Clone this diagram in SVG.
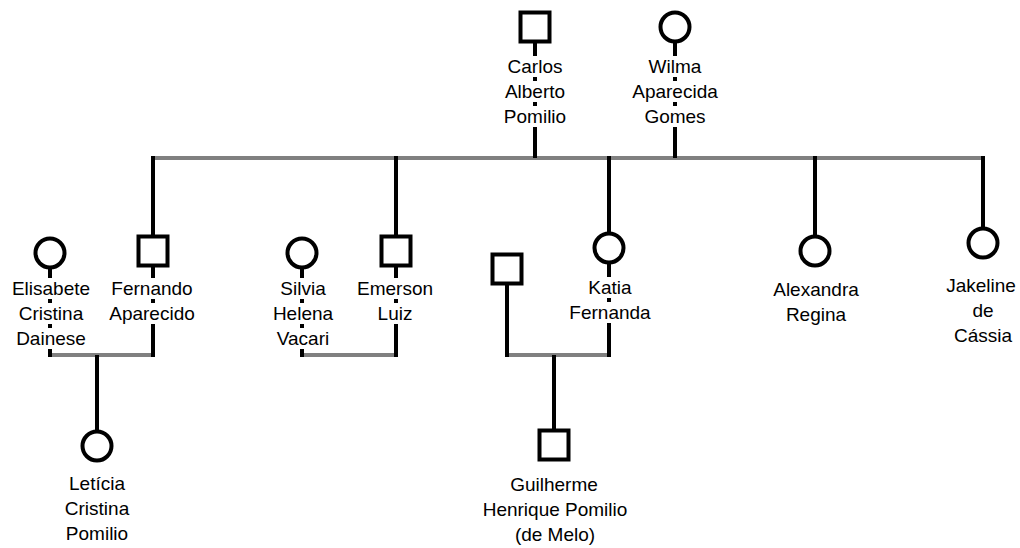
<svg xmlns="http://www.w3.org/2000/svg" width="1020" height="548" viewBox="0 0 1020 548">
  <style>
    .bar { stroke: #808080; stroke-width: 4; fill: none; }
    .link { stroke: #000; stroke-width: 4; fill: none; }
    .sym { fill: #fff; stroke: #000; stroke-width: 4; }
    .bg { fill: #fff; }
    text { font-family: "Liberation Sans", Arial, sans-serif; font-size: 19px; fill: #000; text-anchor: middle; }
  </style>
  <rect width="1020" height="548" fill="#fff"/>

  <!-- family lines: grey sibling/couple bars, black descent lines -->
  <g id="connectors">
    <line class="bar" x1="153" y1="158" x2="983" y2="158"/>
    <line class="bar" x1="50" y1="355" x2="153" y2="355"/>
    <line class="bar" x1="302" y1="355" x2="396" y2="355"/>
    <line class="bar" x1="507" y1="355" x2="609" y2="355"/>

    <line class="link" x1="535" y1="41" x2="535" y2="158"/>
    <line class="link" x1="675" y1="41" x2="675" y2="158"/>

    <line class="link" x1="153" y1="156" x2="153" y2="237"/>
    <line class="link" x1="396" y1="156" x2="396" y2="237"/>
    <line class="link" x1="609" y1="156" x2="609" y2="234"/>
    <line class="link" x1="815" y1="156" x2="815" y2="237"/>
    <line class="link" x1="983" y1="156" x2="983" y2="229"/>

    <line class="link" x1="50" y1="267" x2="50" y2="357"/>
    <line class="link" x1="153" y1="265" x2="153" y2="357"/>
    <line class="link" x1="302" y1="267" x2="302" y2="357"/>
    <line class="link" x1="396" y1="265" x2="396" y2="357"/>
    <line class="link" x1="507" y1="283" x2="507" y2="357"/>
    <line class="link" x1="609" y1="262" x2="609" y2="357"/>

    <line class="link" x1="97" y1="355" x2="97" y2="432"/>
    <line class="link" x1="554" y1="355" x2="554" y2="431"/>
  </g>

  <g id="carlos">
    <rect class="sym" x="520.5" y="12.5" width="29" height="29"/>
    <rect class="bg" x="527" y="56" width="16" height="21"/>
    <rect class="bg" x="527" y="81" width="16" height="21"/>
    <rect class="bg" x="527" y="106" width="16" height="21"/>
    <text x="535" y="73">Carlos</text>
    <text x="535" y="98">Alberto</text>
    <text x="535" y="123">Pomilio</text>
  </g>

  <g id="wilma">
    <circle class="sym" cx="675" cy="27" r="14.5"/>
    <rect class="bg" x="667" y="56" width="16" height="21"/>
    <rect class="bg" x="667" y="81" width="16" height="21"/>
    <rect class="bg" x="667" y="106" width="16" height="21"/>
    <text x="675" y="73">Wilma</text>
    <text x="675" y="98">Aparecida</text>
    <text x="675" y="123">Gomes</text>
  </g>

  <g id="elisabete">
    <circle class="sym" cx="50" cy="253" r="14.5"/>
    <rect class="bg" x="42" y="278" width="16" height="21"/>
    <rect class="bg" x="42" y="303" width="16" height="21"/>
    <rect class="bg" x="42" y="328" width="16" height="21"/>
    <text x="51" y="295">Elisabete</text>
    <text x="51" y="320">Cristina</text>
    <text x="51" y="345">Dainese</text>
  </g>

  <g id="fernando">
    <rect class="sym" x="138.5" y="236.5" width="29" height="29"/>
    <rect class="bg" x="145" y="278" width="16" height="21"/>
    <rect class="bg" x="145" y="303" width="16" height="21"/>
    <text x="152" y="295">Fernando</text>
    <text x="152" y="320">Aparecido</text>
  </g>

  <g id="silvia">
    <circle class="sym" cx="302" cy="253" r="14.5"/>
    <rect class="bg" x="294" y="278" width="16" height="21"/>
    <rect class="bg" x="294" y="303" width="16" height="21"/>
    <rect class="bg" x="294" y="328" width="16" height="21"/>
    <text x="303" y="295">Silvia</text>
    <text x="303" y="320">Helena</text>
    <text x="303" y="345">Vacari</text>
  </g>

  <g id="emerson">
    <rect class="sym" x="381.5" y="236.5" width="29" height="29"/>
    <rect class="bg" x="388" y="278" width="16" height="21"/>
    <rect class="bg" x="388" y="303" width="16" height="21"/>
    <text x="395" y="295">Emerson</text>
    <text x="395" y="320">Luiz</text>
  </g>

  <g id="katia">
    <circle class="sym" cx="609" cy="248" r="14.5"/>
    <rect class="bg" x="601" y="277" width="16" height="21"/>
    <rect class="bg" x="601" y="302" width="16" height="21"/>
    <text x="610" y="294">Katia</text>
    <text x="610" y="319">Fernanda</text>
  </g>

  <g id="katia-spouse">
    <rect class="sym" x="492.5" y="254.5" width="29" height="29"/>
  </g>

  <g id="alexandra">
    <circle class="sym" cx="815" cy="251" r="14.5"/>
    <text x="816" y="296">Alexandra</text>
    <text x="816" y="321">Regina</text>
  </g>

  <g id="jakeline">
    <circle class="sym" cx="983" cy="243" r="14.5"/>
    <text x="981" y="292">Jakeline</text>
    <text x="983" y="317">de</text>
    <text x="983" y="342">Cássia</text>
  </g>

  <g id="leticia">
    <circle class="sym" cx="97" cy="446" r="14.5"/>
    <text x="97" y="490">Letícia</text>
    <text x="97" y="515">Cristina</text>
    <text x="97" y="540">Pomilio</text>
  </g>

  <g id="guilherme">
    <rect class="sym" x="539.5" y="430.5" width="29" height="29"/>
    <text x="554" y="491">Guilherme</text>
    <text x="555" y="516">Henrique Pomilio</text>
    <text x="555" y="541">(de Melo)</text>
  </g>
</svg>
